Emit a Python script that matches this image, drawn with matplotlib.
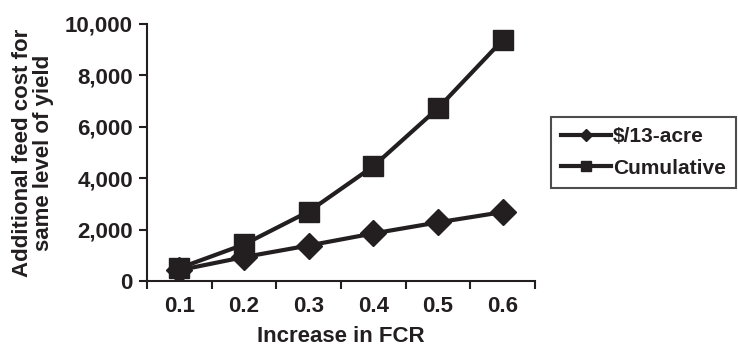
import matplotlib
matplotlib.use("Agg")
import matplotlib.pyplot as plt
import numpy as np

# data
fcr = ["0.1", "0.2", "0.3", "0.4", "0.5", "0.6"]
per_acre = [420, 930, 1380, 1850, 2280, 2680]
cumulative = [500, 1420, 2700, 4460, 6720, 9370]

ink = "#231f20"
plt.rcParams["font.family"] = ["Liberation Sans", "DejaVu Sans"]
plt.rcParams["font.weight"] = "bold"
plt.rcParams["axes.labelweight"] = "bold"

fig = plt.figure(figsize=(7.38, 3.48), dpi=100)
ax = fig.add_axes([0.199, 0.1925, 0.526, 0.739])

x = np.arange(len(fcr))
ax.plot(x, per_acre, color=ink, lw=3, marker="D", ms=13, label="$/13-acre")
ax.plot(x, cumulative, color=ink, lw=3, marker="s", ms=14, label="Cumulative")

ax.set_xlim(-0.5, len(fcr) - 0.5)
ax.set_ylim(0, 10000)
ax.set_yticks(range(0, 10001, 2000))
ax.set_yticklabels([f"{v:,}" for v in range(0, 10001, 2000)])
ax.set_xticks(x)
ax.set_xticklabels(fcr)
ax.set_xticks(np.arange(-0.5, len(fcr)), minor=True)
ax.tick_params(axis="x", which="major", length=0, pad=11)
ax.tick_params(axis="x", which="minor", length=6, width=1.5, color=ink)
ax.tick_params(axis="y", length=6, width=1.5, color=ink, pad=4)
ax.tick_params(labelsize=16, labelcolor=ink)

for side in ["top", "right"]:
    ax.spines[side].set_visible(False)
for side in ["left", "bottom"]:
    ax.spines[side].set_linewidth(1.5)
    ax.spines[side].set_color(ink)

ax.set_xlabel("Increase in FCR", fontsize=16, color=ink, labelpad=6)
ax.set_ylabel("Additional feed cost for\nsame level of yield", fontsize=16,
              color=ink, linespacing=1.0, labelpad=8)

leg = ax.legend(loc="center left", bbox_to_anchor=(1.04, 0.5), fontsize=15,
                frameon=True, fancybox=False, edgecolor=ink, markerscale=0.5,
                handlelength=2.4, handletextpad=0.1, borderpad=0.5,
                labelspacing=0.6, borderaxespad=0)
leg.get_frame().set_linewidth(1.5)
for t in leg.get_texts():
    t.set_color(ink)

fig.savefig("out.png", dpi=100)
